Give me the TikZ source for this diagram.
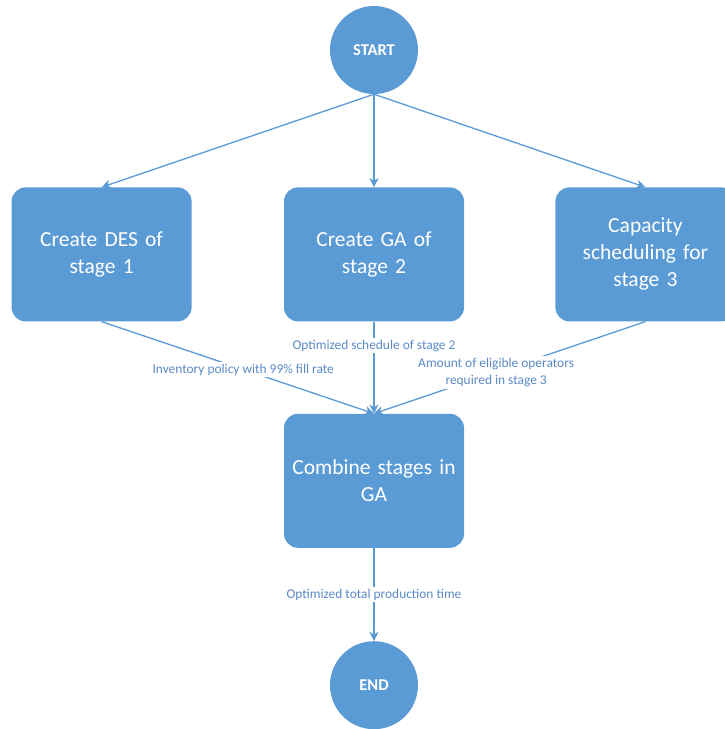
\documentclass[tikz,border=0pt]{standalone}
\usepackage{fontspec}
\setmainfont{Carlito}
\usepackage{xcolor}
\usetikzlibrary{arrows.meta, positioning}

\definecolor{officeblue}{HTML}{5B9BD5}
\definecolor{labelblue}{HTML}{5A8AC6}

\begin{document}
\begin{tikzpicture}[
x=1pt, y=-1pt,
terminal/.style={circle, fill=officeblue, text=white, minimum size=88pt, inner sep=0pt, font=\fontsize{16.5}{18}\selectfont\bfseries},
stagebox/.style={rectangle, rounded corners=14pt, fill=officeblue, text=white, align=center, minimum width=180pt, minimum height=134pt, text width=172pt, font=\fontsize{21.5}{27}\selectfont},
arrow/.style={-{Stealth[length=9pt, width=9pt, inset=2.5pt]}, officeblue, line width=1.3pt},
flowlabel/.style={fill=white, text=labelblue, align=center, inner sep=2pt, font=\fontsize{13.4}{17}\selectfont}
]
\useasboundingbox (0,0) rectangle (725,729);

\node[terminal] (start) at (374,50) {START};
\node[stagebox] (ga2) [below=93pt of start] {Create GA of\\stage 2};
\node[stagebox] (des1) [left=92pt of ga2] {Create DES of\\stage 1};
\node[stagebox] (cap3) [right=91pt of ga2] {Capacity\\scheduling for\\stage 3};
\node[stagebox] (combine) [below=92pt of ga2] {Combine stages in\\GA};
\node[terminal] (end) [below=93pt of combine] {END};

\draw[arrow] (start.south) -- (des1.north);
\draw[arrow] (start.south) -- (ga2.north);
\draw[arrow] (start.south) -- (cap3.north);

\draw[arrow] (des1.south) -- node[flowlabel, pos=0.52] {Inventory policy with 99\% fill rate} (combine.north);
\draw[arrow] (ga2.south) -- node[flowlabel, pos=0.26] {Optimized schedule of stage 2} (combine.north);
\draw[arrow] (cap3.south) -- node[flowlabel, pos=0.55] {Amount of eligible operators\\required in stage 3} (combine.north);
\draw[arrow] (combine.south) -- node[flowlabel] {Optimized total production time} (end.north);

\end{tikzpicture}
\end{document}
